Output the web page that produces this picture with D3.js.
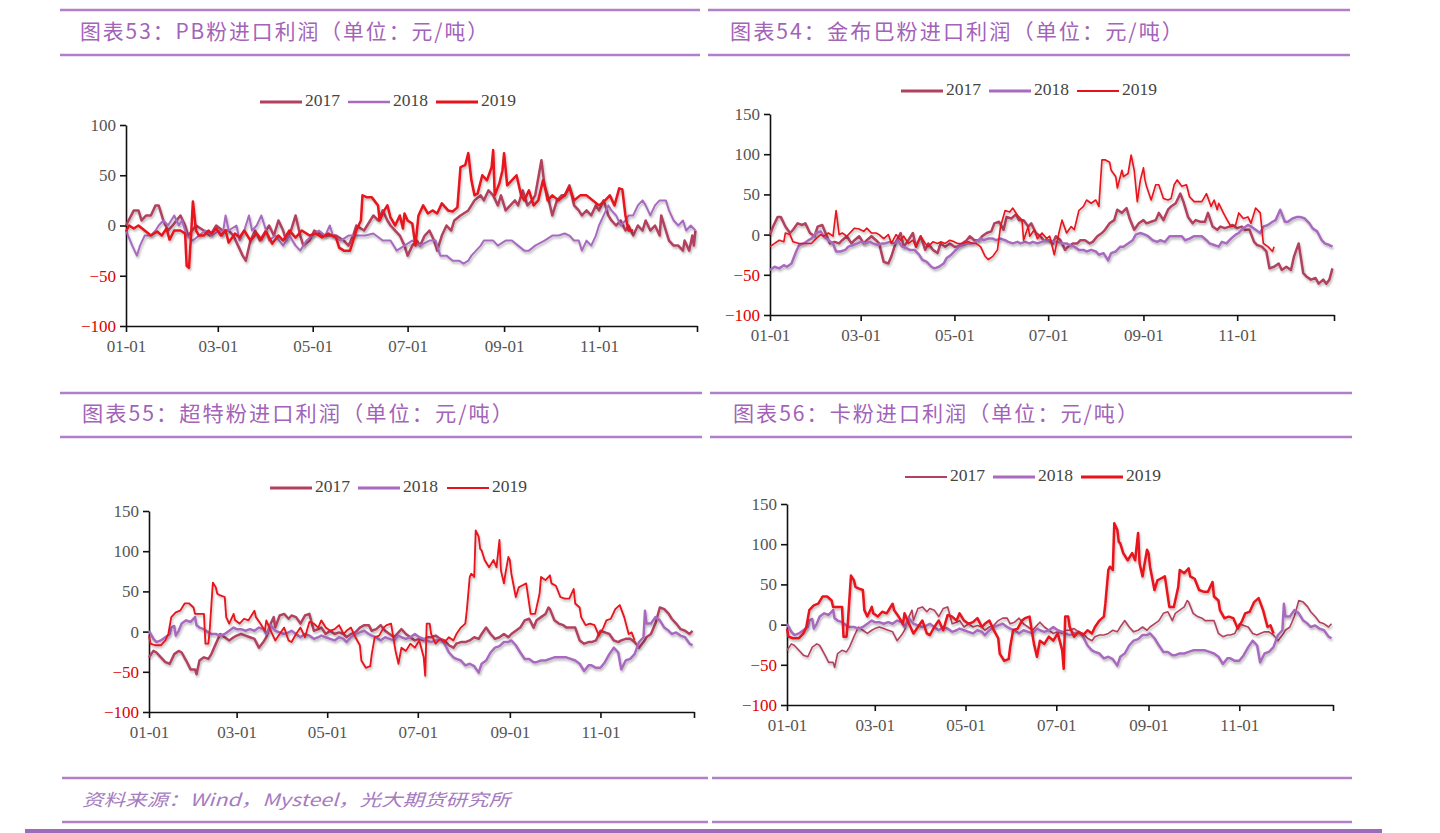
<!DOCTYPE html>
<html><head><meta charset="utf-8">
<script src="https://cdn.jsdelivr.net/npm/d3@7"></script>
<style>
html,body{margin:0;padding:0;background:#fff;}
svg{display:block;}
</style></head>
<body>
<svg id="c" width="1440" height="833"></svg>
<script>
// ---------- data (day of year, 元/吨) ----------
const years = ["2017","2018","2019"];
const monthTicks = [0,59,120,181,243,304,367];
const monthLabels = ["01-01","03-01","05-01","07-01","09-01","11-01",""];
const yTicksA = [-100,-50,0,50,100];
const yTicksB = [-100,-50,0,50,100,150];
const titles = ["图表53：PB粉进口利润（单位：元/吨）","图表54：金布巴粉进口利润（单位：元/吨）","图表55：超特粉进口利润（单位：元/吨）","图表56：卡粉进口利润（单位：元/吨）"];
const sourceText = "资料来源：Wind，Mysteel，光大期货研究所";

// PB粉
const pb2017 = [[0,0],[5,15],[8,15],[10,5],[13,10],[16,10],[19,20],[21,20],[24,5],[27,-5],[30,0],[35,10],[38,0],[40,-10],[45,0],[50,-5],[54,-10],[58,0],[62,-5],[66,-5],[69,-10],[72,-20],[75,-30],[77,-35],[80,-15],[83,-5],[86,-15],[90,-5],[92,0],[95,-10],[98,5],[101,-5],[103,-15],[106,-5],[109,10],[112,-10],[114,-20],[118,-15],[121,-5],[127,-10],[135,-10],[140,-15],[143,-20],[146,-10],[148,0],[153,-5],[157,5],[159,10],[162,5],[165,15],[168,5],[170,0],[173,-5],[176,-10],[179,-20],[181,-30],[184,-20],[187,-15],[189,-20],[192,-10],[195,-5],[198,-15],[200,-25],[203,-10],[206,0],[209,-5],[211,5],[215,10],[220,15],[224,25],[228,30],[230,25],[233,35],[236,30],[239,20],[241,30],[244,15],[247,20],[250,25],[252,20],[255,35],[258,20],[261,25],[263,30],[267,65],[269,40],[271,30],[274,10],[277,25],[280,30],[282,30],[285,40],[288,20],[291,15],[293,10],[296,15],[299,10],[302,20],[304,15],[307,25],[310,10],[312,5],[315,0],[318,5],[321,-5],[323,0],[326,-10],[329,0],[332,-5],[334,5],[337,-5],[340,0],[343,-10],[344,10],[347,-5],[349,-15],[352,-20],[355,-20],[358,-25],[359,-15],[362,-25],[364,-10],[365,-20],[366,-5]];
const pb2018 = [[0,-5],[4,-20],[7,-30],[9,-20],[12,-10],[16,-10],[19,-5],[21,0],[24,5],[27,0],[31,10],[34,0],[36,5],[39,-10],[43,-15],[47,-10],[51,-5],[55,-10],[60,-5],[62,-10],[64,10],[66,-5],[71,0],[73,-15],[76,-5],[79,10],[81,-5],[84,0],[87,10],[90,-5],[92,-15],[96,-10],[101,-20],[105,-10],[109,-20],[112,-25],[116,-15],[120,-10],[124,-5],[128,-10],[131,0],[133,-10],[138,-15],[143,-10],[148,-10],[154,-10],[159,-8],[165,-15],[170,-15],[174,-25],[179,-20],[184,-15],[189,-20],[195,-15],[199,-15],[202,-30],[206,-30],[210,-35],[214,-35],[217,-38],[220,-35],[222,-30],[225,-25],[228,-20],[230,-15],[236,-15],[239,-20],[244,-15],[248,-15],[252,-20],[256,-25],[259,-25],[263,-20],[269,-15],[274,-10],[278,-10],[282,-8],[285,-10],[288,-15],[291,-15],[293,-25],[296,-15],[299,-20],[302,-10],[304,0],[307,10],[310,20],[312,15],[315,10],[318,0],[321,5],[323,10],[326,10],[329,20],[332,25],[334,20],[337,10],[340,20],[343,25],[347,25],[349,15],[352,5],[355,0],[358,5],[360,-5],[363,0],[366,-5]];
const pb2019 = [[0,-6],[2,0],[5,-3],[8,0],[12,-5],[16,-10],[20,-6],[23,-10],[26,-3],[28,-14],[31,-5],[35,-5],[38,-8],[39,-40],[40.5,-42],[42,-5],[43,24],[45,-5],[47,-10],[50,-10],[53,-5],[55,-8],[58,-3],[61,-10],[64,-5],[66,-17],[70,-8],[73,-12],[76,-5],[80,-15],[84,-8],[87,-14],[90,-6],[94,-18],[98,-10],[101,-15],[105,-5],[109,-12],[113,-5],[118,-10],[122,-8],[126,-12],[130,-8],[135,-12],[137,-22],[140,-25],[144,-25],[146,-15],[148,-5],[151,5],[152,30],[155,28],[158,28],[162,20],[163,5],[166,15],[168,20],[170,8],[173,0],[176,10],[178,-3],[179,12],[181,5],[184,2],[186,-20],[188,10],[191,20],[194,12],[197,15],[200,12],[203,22],[207,15],[210,14],[213,18],[215,58],[218,60],[220,72],[222,45],[224,30],[226,32],[229,50],[232,45],[235,58],[236,75],[237,30],[240,42],[242,55],[243,72],[245,40],[248,45],[251,50],[254,30],[256,25],[259,35],[262,20],[265,25],[268,45],[269,40],[271,25],[274,30],[278,25],[282,30],[285,38],[288,25],[292,30],[296,30],[300,25],[304,20],[308,25],[311,30],[314,20],[317,37],[319,36],[321,10],[323,-5],[326,-5]];

// 金布巴粉
const jbb2017 = [[0,0],[2,10],[5,22],[7,22],[10,10],[13,2],[15,6],[18,14],[21,12],[23,14],[26,2],[29,-2],[31,10],[34,12],[37,-2],[39,-11],[42,-9],[45,-11],[47,-7],[50,-2],[53,-11],[55,-7],[58,-2],[61,-11],[63,-7],[66,-2],[69,-7],[71,-11],[74,-34],[77,-36],[79,-27],[82,-9],[85,2],[87,-15],[90,-7],[93,2],[95,-15],[98,-2],[101,-19],[103,-11],[106,-19],[109,-23],[111,-11],[114,-15],[117,-11],[120,-15],[122,-15],[125,-11],[128,-7],[130,-2],[133,-7],[136,-7],[138,-2],[141,2],[144,4],[146,14],[149,16],[152,6],[154,22],[157,20],[160,25],[162,18],[165,18],[168,10],[170,14],[173,2],[176,-2],[178,-7],[181,-7],[184,-11],[186,-2],[189,-7],[192,-19],[194,-15],[197,-11],[200,-11],[202,-7],[205,-7],[208,-11],[210,-9],[213,-2],[216,2],[218,6],[221,14],[224,18],[226,31],[229,27],[232,33],[234,20],[237,6],[240,14],[243,18],[245,14],[248,16],[251,18],[253,27],[256,18],[259,31],[261,35],[264,39],[267,51],[269,41],[272,22],[275,14],[277,18],[280,16],[283,16],[285,27],[288,10],[291,6],[293,10],[296,8],[299,10],[301,12],[304,8],[307,10],[309,6],[312,6],[315,-9],[317,-13],[320,-15],[323,-21],[325,-42],[328,-40],[331,-36],[333,-44],[336,-40],[339,-44],[341,-27],[344,-11],[347,-48],[349,-52],[352,-56],[355,-54],[357,-61],[360,-56],[362,-61],[364,-56],[366,-42]];
const jbb2018 = [[0,-44],[3,-40],[6,-42],[9,-38],[11,-40],[14,-36],[17,-21],[19,-13],[22,-11],[25,-7],[27,-5],[30,2],[33,4],[35,-2],[38,-7],[41,-11],[43,-21],[46,-21],[49,-19],[51,-15],[54,-13],[57,-11],[59,-9],[62,-11],[65,-9],[67,-11],[70,-13],[73,-11],[75,-11],[78,-9],[81,-11],[83,-7],[86,-15],[89,-17],[91,-19],[94,-19],[97,-25],[99,-31],[102,-34],[105,-40],[107,-42],[110,-40],[113,-36],[115,-29],[118,-25],[121,-19],[123,-15],[126,-13],[129,-11],[131,-11],[134,-9],[137,-5],[139,-7],[142,-5],[145,-5],[147,-7],[150,-5],[153,-7],[155,-9],[158,-11],[161,-9],[163,-11],[166,-9],[169,-11],[171,-9],[174,-11],[177,-9],[179,-7],[182,-7],[185,-9],[187,-9],[190,-11],[193,-11],[195,-13],[198,-15],[201,-19],[204,-19],[206,-21],[209,-19],[212,-21],[214,-25],[217,-23],[220,-32],[222,-23],[225,-21],[228,-15],[230,-15],[233,-11],[236,-7],[238,0],[241,2],[244,0],[246,-2],[249,-7],[252,-9],[254,-7],[257,-9],[260,-2],[262,-2],[265,-2],[268,-2],[270,-7],[273,-5],[276,-2],[278,-2],[281,-2],[284,-7],[286,-11],[289,-13],[292,-15],[294,-9],[297,-11],[300,-5],[303,0],[305,2],[308,8],[311,12],[313,10],[316,6],[319,2],[321,10],[324,12],[327,16],[329,18],[332,31],[335,16],[337,16],[340,20],[343,22],[345,22],[348,20],[351,14],[353,8],[356,4],[359,-7],[361,-11],[364,-13],[366,-15]];
const jbb2019 = [[0,-15],[3,-11],[6,-7],[9,-9],[10,2],[13,0],[15,-9],[19,-11],[23,-11],[27,-11],[30,-5],[33,0],[35,-2],[38,2],[41,-2],[43,30],[45,0],[47,2],[50,-2],[53,4],[55,8],[58,7],[61,4],[63,8],[66,2],[69,2],[71,0],[74,-5],[77,0],[79,-11],[82,0],[85,-7],[87,-2],[90,-11],[93,-7],[95,-15],[98,-2],[101,-11],[103,-15],[106,-9],[109,-11],[111,-9],[114,-11],[117,-7],[120,-9],[122,-11],[125,-11],[129,-9],[132,-11],[134,-11],[137,-15],[140,-27],[142,-31],[145,-27],[148,-19],[150,10],[153,30],[156,28],[158,33],[161,24],[164,18],[165,-7],[168,10],[169,-2],[172,6],[174,-5],[177,2],[180,-5],[182,-2],[185,-25],[188,2],[190,18],[193,2],[196,10],[198,6],[201,30],[204,35],[206,43],[209,39],[212,43],[214,35],[216,93],[218,93],[221,90],[222,80],[225,72],[226,58],[229,80],[230,72],[233,76],[235,99],[237,80],[239,41],[241,68],[243,83],[244,68],[245,60],[248,43],[251,62],[253,62],[256,45],[259,43],[261,45],[263,62],[265,68],[268,60],[271,62],[273,47],[276,41],[279,41],[281,41],[284,51],[287,35],[289,43],[291,31],[292,39],[295,27],[297,20],[300,10],[303,12],[305,27],[308,20],[311,22],[313,14],[316,33],[319,27],[321,-11],[324,-15],[327,-21],[328,-15]];

// 超特粉
const ctf2017 = [[0,-32],[3,-24],[5,-26],[8,-32],[11,-38],[14,-40],[17,-28],[20,-24],[22,-26],[25,-36],[28,-47],[31,-47],[32,-53],[34,-36],[37,-32],[40,-34],[42,-28],[45,-15],[48,-3],[51,-7],[54,-11],[57,-7],[59,-5],[62,-3],[65,-5],[68,-7],[71,-9],[74,-20],[77,-13],[79,-7],[82,10],[84,18],[85,5],[88,20],[91,22],[94,16],[96,20],[99,18],[102,10],[105,20],[108,22],[111,1],[114,3],[116,5],[119,-3],[122,1],[125,-3],[128,-1],[131,-3],[133,-7],[136,-3],[139,-1],[142,5],[145,8],[148,8],[150,1],[153,3],[156,8],[159,1],[162,-3],[165,-7],[168,-1],[170,3],[173,-3],[176,-7],[179,-11],[182,-9],[185,-11],[187,-7],[190,-7],[193,-5],[196,-9],[199,-11],[202,-17],[205,-20],[207,-15],[210,-13],[213,-13],[216,-11],[219,-7],[222,-9],[224,-3],[227,5],[230,-3],[233,-9],[236,-7],[239,-3],[242,-7],[244,-3],[247,1],[250,5],[253,14],[256,16],[259,5],[261,14],[264,18],[267,22],[269,30],[270,28],[273,14],[276,10],[279,8],[281,5],[284,5],[287,5],[290,-11],[293,-15],[296,-13],[298,-13],[301,-11],[304,1],[307,-1],[310,-3],[313,-11],[316,-13],[318,-11],[321,-9],[324,-9],[327,-13],[330,-20],[333,-13],[335,-7],[338,-3],[341,10],[344,30],[347,28],[350,22],[352,16],[355,10],[358,3],[361,1],[364,-3],[366,1]];
const ctf2018 = [[0,1],[3,-9],[5,-13],[8,-11],[11,-7],[14,-3],[15,5],[17,7],[18,-5],[20,1],[22,10],[25,14],[28,12],[31,18],[32,8],[34,5],[37,3],[40,-1],[42,-3],[45,-3],[48,-5],[51,-3],[54,1],[57,5],[59,3],[62,3],[65,1],[68,3],[71,1],[74,5],[77,3],[79,-3],[82,8],[85,1],[88,-1],[91,-3],[94,-1],[96,1],[99,-3],[102,-7],[105,-3],[108,-5],[111,-9],[114,-7],[116,-5],[119,-7],[122,-9],[125,-11],[128,-7],[131,-9],[133,-13],[136,-7],[139,-3],[142,-1],[145,1],[148,-3],[150,-5],[153,-7],[156,-11],[159,-7],[162,-9],[165,-11],[168,-5],[170,-7],[173,-9],[176,-7],[179,-3],[182,-7],[185,-9],[187,-11],[190,-13],[193,-11],[196,-9],[199,-15],[202,-26],[205,-32],[207,-34],[210,-36],[213,-42],[216,-40],[219,-43],[222,-51],[224,-40],[227,-36],[230,-26],[233,-20],[236,-18],[239,-13],[242,-13],[244,-11],[247,-17],[250,-26],[253,-34],[256,-34],[259,-38],[261,-38],[264,-36],[267,-36],[270,-34],[273,-32],[276,-32],[279,-32],[281,-32],[284,-34],[287,-36],[290,-40],[293,-49],[296,-42],[298,-42],[301,-45],[304,-45],[307,-38],[310,-28],[313,-20],[316,-26],[318,-47],[321,-36],[324,-34],[327,-28],[330,-13],[333,-7],[334,26],[335,10],[338,10],[341,18],[344,14],[347,5],[350,1],[352,-3],[355,-1],[358,-5],[361,-7],[364,-15],[366,-17]];
const ctf2019 = [[0,-5],[1,-15],[4,-17],[8,-17],[11,-11],[13,-3],[15,18],[18,24],[21,26],[24,35],[27,35],[30,30],[31,22],[34,22],[37,22],[38,-15],[40,-15],[41,5],[43,61],[45,55],[46,47],[48,45],[51,43],[52,18],[54,10],[57,22],[58,14],[61,10],[64,16],[67,14],[69,20],[71,26],[72,18],[75,10],[78,1],[79,14],[82,1],[85,-11],[88,-3],[91,5],[94,-11],[96,-13],[99,-3],[102,5],[105,-7],[108,12],[111,10],[114,5],[116,14],[119,5],[122,1],[125,3],[128,8],[131,-3],[133,1],[136,5],[139,-7],[142,-17],[143,-36],[146,-45],[149,-43],[150,-28],[152,-7],[155,-5],[158,5],[160,8],[163,10],[166,-24],[168,-40],[170,-20],[173,-24],[176,-15],[179,-20],[182,-11],[185,-32],[186,-55],[187,10],[189,10],[190,-3],[193,-15],[196,-9],[199,-13],[202,-7],[205,-11],[207,-3],[210,5],[213,10],[214,26],[216,68],[217,72],[219,68],[220,126],[222,118],[223,103],[224,101],[226,89],[229,80],[232,89],[234,80],[236,114],[237,76],[239,60],[240,72],[242,93],[243,89],[244,72],[247,43],[249,55],[251,57],[254,60],[257,22],[260,22],[263,47],[264,68],[267,64],[270,70],[271,60],[274,57],[277,43],[280,41],[283,41],[286,53],[287,35],[290,30],[291,18],[294,8],[297,10],[300,8],[303,-5],[306,5],[308,14],[311,16],[314,28],[317,33],[320,18],[323,-3],[325,-1],[327,-11]];

// 卡粉 (the reference shows the same curves as 超特粉)
const kf2017 = ctf2017, kf2018 = ctf2018, kf2019 = ctf2019;

// ---------- styling / layout ----------
const colors = ["#b2415f","#a86bbf","#e8121b"];
const purple = "#b07fca";
const titleColor = "#a263b8";
const serif = "'Liberation Serif', 'Times New Roman', serif";

const panels = [
  {title:titles[0], tx:80, ty:33, tlen:410, series:[pb2017,pb2018,pb2019], widths:[2.5,2,2.5],
   xr:[126,697], yd:[-100,100], yr:[326,125], yt:yTicksA, leg:{y:102, x:[260,348,436]}},
  {title:titles[1], tx:730, ty:33, tlen:455, series:[jbb2017,jbb2018,jbb2019], widths:[2.5,2.5,1.6],
   xr:[770,1334], yd:[-100,150], yr:[315,114], yt:yTicksB, leg:{y:91, x:[901,989,1077]}},
  {title:titles[2], tx:82, ty:415, tlen:433, series:[ctf2017,ctf2018,ctf2019], widths:[2.5,2.5,1.8],
   xr:[149,694], yd:[-100,150], yr:[712,511], yt:yTicksB, leg:{y:488, x:[270,358,447]}},
  {title:titles[3], tx:733, ty:415, tlen:407, series:[kf2017,kf2018,kf2019], widths:[1.6,2.5,2.5],
   xr:[787,1333], yd:[-100,150], yr:[705,504], yt:yTicksB, leg:{y:477, x:[905,993,1081]}}
];

const svg = d3.select("#c");
const defs = svg.append("defs");
const f = defs.append("filter").attr("id","sh").attr("x","-5%").attr("y","-10%").attr("width","110%").attr("height","130%");
f.append("feDropShadow").attr("dx",1).attr("dy",2).attr("stdDeviation",1.3).attr("flood-color","#000").attr("flood-opacity",0.28);

// horizontal rules
const rules = [
  [60,700,10],[708,1350,10],[60,700,55],[708,1350,55],
  [60,702,393],[710,1352,393],[60,702,437],[710,1352,437],
  [62,708,778],[712,1352,778],[62,708,822],[712,1352,822]
];
svg.selectAll("line.rule").data(rules).enter().append("line")
  .attr("x1",d=>d[0]).attr("x2",d=>d[1]).attr("y1",d=>d[2]).attr("y2",d=>d[2])
  .attr("stroke",purple).attr("stroke-width",2.5);

panels.forEach(p => {
  svg.append("text").attr("x",p.tx).attr("y",p.ty).attr("dominant-baseline","middle")
    .attr("textLength",p.tlen).attr("lengthAdjust","spacingAndGlyphs")
    .attr("font-family","'Noto Sans CJK SC', sans-serif").attr("font-size",21)
    .attr("letter-spacing",2).attr("fill",titleColor).text(p.title);

  const x = d3.scaleLinear().domain([0,367]).range(p.xr);
  const y = d3.scaleLinear().domain(p.yd).range(p.yr);
  const g = svg.append("g");

  // axes
  const ya = g.append("g").attr("transform",`translate(${p.xr[0]},0)`)
    .call(d3.axisLeft(y).tickValues(p.yt).tickSize(6).tickSizeOuter(0).tickPadding(4));
  const xa = g.append("g").attr("transform",`translate(0,${p.yr[0]})`)
    .call(d3.axisBottom(x).tickValues(monthTicks).tickSize(6).tickSizeOuter(0).tickPadding(8)
      .tickFormat((d,i)=>monthLabels[i]));
  [ya,xa].forEach(a=>{
    a.selectAll("path,line").attr("stroke","#111").attr("stroke-width",1.6);
    a.selectAll("text").attr("font-family",serif).attr("font-size",17).attr("fill","#555");
  });
  ya.selectAll("text").attr("fill",d=>d<0?"#e00000":"#555");

  // lines
  const line = d3.line().x(d=>x(d[0])).y(d=>y(d[1]));
  p.series.forEach((s,i)=>{
    g.append("path").datum(s).attr("d",line).attr("fill","none")
      .attr("stroke",colors[i]).attr("stroke-width",p.widths[i])
      .attr("stroke-linejoin","round").attr("filter","url(#sh)");
  });

  // legend
  years.forEach((yr,i)=>{
    const lx = p.leg.x[i];
    svg.append("line").attr("x1",lx).attr("x2",lx+42).attr("y1",p.leg.y).attr("y2",p.leg.y)
      .attr("stroke",colors[i]).attr("stroke-width",p.widths[i]+0.3);
    svg.append("text").attr("x",lx+45).attr("y",p.leg.y).attr("dominant-baseline","middle")
      .attr("font-family",serif).attr("font-size",17.5).attr("fill","#444").text(yr);
  });
});

// source
svg.append("text").attr("x",82).attr("y",801).attr("dominant-baseline","middle")
  .attr("textLength",428).attr("lengthAdjust","spacingAndGlyphs")
  .attr("font-family","'Noto Sans CJK SC', sans-serif").attr("font-style","italic")
  .attr("font-size",17).attr("fill","#a67bc0").text(sourceText);

// bottom band
svg.append("rect").attr("x",25).attr("y",829).attr("width",1357).attr("height",4).attr("fill","#9c6cb8");
</script>
</body></html>
